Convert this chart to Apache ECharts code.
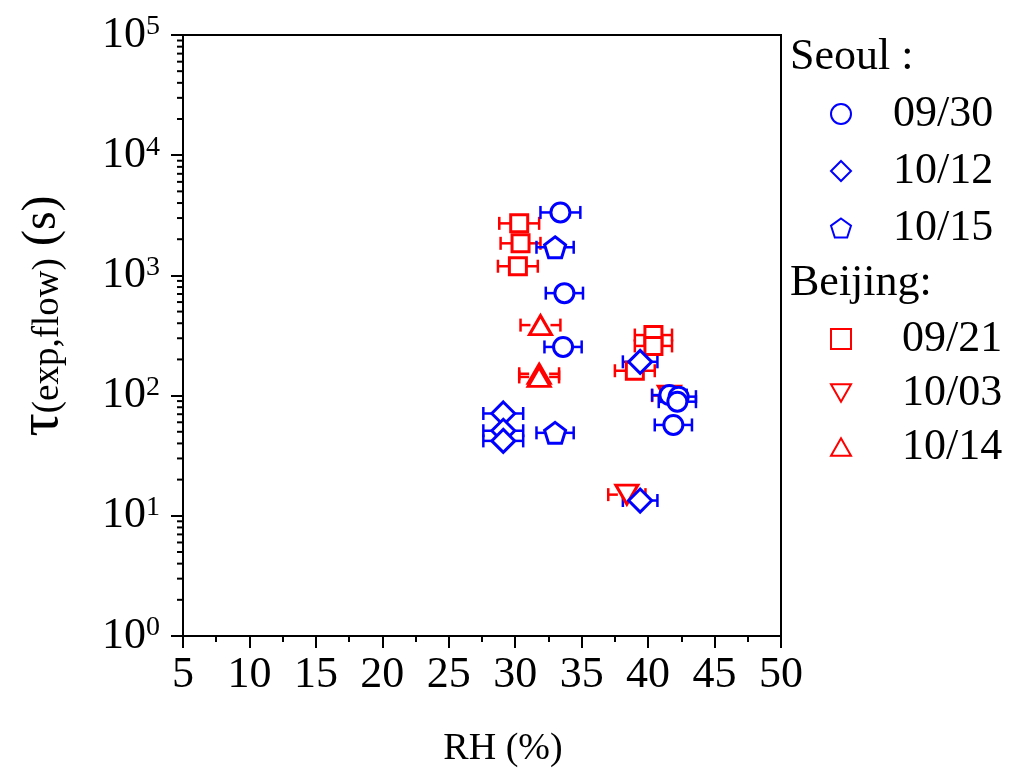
<!DOCTYPE html>
<html>
<head>
<meta charset="utf-8">
<script src="https://cdn.jsdelivr.net/npm/echarts@6/dist/echarts.min.js"></script>
<style>
html,body{margin:0;padding:0;background:#fff;}
#chart{width:1011px;height:773px;}
</style>
</head>
<body>
<div id="chart"></div>
<script>
// ---- Data (RH %, tau seconds) ----
const seoul0930 = [[33.4, 3340], [33.7, 712], [33.6, 254], [41.6, 101], [42.3, 98], [42.2, 89], [41.9, 57]];
const seoul0930Err = [1.5, 1.4, 1.4, 1.3, 1.3, 1.4, 1.4];
const seoul1012 = [[29.1, 71], [29.1, 51], [29.1, 42], [39.4, 191], [39.4, 13.4]];
const seoul1012Err = [1.5, 1.5, 1.5, 1.3, 1.3];
const seoul1015 = [[33.0, 1714], [33.0, 49]];
const seoul1015Err = [1.4, 1.4];
const beijing0921 = [[30.3, 2710], [30.4, 1849], [30.2, 1192], [40.4, 319], [40.4, 259], [39.0, 161]];
const beijing0921Err = [1.5, 1.5, 1.5, 1.4, 1.4, 1.5];
const beijing1003 = [[38.4, 15], [41.6, 100]];
const beijing1003Err = [1.4, 1.3];
const beijing1014 = [[31.9, 386], [31.8, 152], [31.8, 143]];
const beijing1014Err = [1.5, 1.5, 1.5];

const xTicks = [5, 10, 15, 20, 25, 30, 35, 40, 45, 50];
const yDecades = [1, 10, 100, 1000, 10000, 100000];
const yMinorMantissas = [2, 3, 4, 5, 6, 7, 8, 9];

const BLUE = '#0000ff', RED = '#ff0000';
const FONT = '"Liberation Serif", "Times New Roman", serif';
const PENTAGON = 'path://M0,-1 L0.951,-0.309 L0.588,0.809 L-0.588,0.809 L-0.951,-0.309 Z';
const TRI_DOWN = 'path://M0,0 L2,0 L1,1.732 Z';
const TRI_UP = 'path://M1,0 L2,1.732 L0,1.732 Z';

function withErr(pts, errs) { return pts.map((p, i) => [p[0], p[1], errs[i]]); }

function errSeries(name, pts, errs, color, gap) {
  return {
    type: 'custom', name: name + '_err', silent: true, clip: false, z: 2,
    encode: { x: 0, y: 1 },
    data: withErr(pts, errs),
    renderItem: function (params, api) {
      const x = api.value(0), y = api.value(1), e = api.value(2);
      const c = api.coord([x, y]);
      const a = api.coord([x - e, y]);
      const b = api.coord([x + e, y]);
      const h = 6.5, st = { stroke: color, lineWidth: 2.5 };
      return {
        type: 'group', children: [
          { type: 'line', shape: { x1: a[0], y1: c[1], x2: c[0] - gap, y2: c[1] }, style: st },
          { type: 'line', shape: { x1: c[0] + gap, y1: c[1], x2: b[0], y2: c[1] }, style: st },
          { type: 'line', shape: { x1: a[0], y1: c[1] - h, x2: a[0], y2: c[1] + h }, style: st },
          { type: 'line', shape: { x1: b[0], y1: c[1] - h, x2: b[0], y2: c[1] + h }, style: st }
        ]
      };
    }
  };
}

function markerSeries(name, pts, color, symbol, size) {
  return {
    type: 'scatter', name: name, data: pts, symbol: symbol, symbolSize: size, z: 3,
    itemStyle: { color: '#ffffff', borderColor: color, borderWidth: 3, opacity: 1 }
  };
}

const minorData = [];
yDecades.slice(0, -1).forEach(d => yMinorMantissas.forEach(m => minorData.push([xTicks[0], m * d])));

const chart = echarts.init(document.getElementById('chart'), null, { renderer: 'canvas' });

const option = {
  animation: false,
  backgroundColor: '#fff',
  grid: { left: 183, right: 230, top: 35, bottom: 135, show: true, borderColor: '#000', borderWidth: 2 },
  xAxis: {
    type: 'value', min: 5, max: 50, interval: 5,
    axisLine: { show: true, lineStyle: { color: '#000', width: 2 } },
    axisTick: { show: true, inside: false, length: 12, lineStyle: { color: '#000', width: 2 } },
    minorTick: { show: true, splitNumber: 2, length: 6, lineStyle: { color: '#000', width: 2 } },
    splitLine: { show: false },
    axisLabel: { color: '#000', fontFamily: FONT, fontSize: 44, margin: 17 },
    name: 'RH (%)', nameLocation: 'middle', nameGap: 94,
    nameTextStyle: { color: '#000', fontFamily: FONT, fontSize: 38, padding: [0, 0, 0, 42] }
  },
  yAxis: {
    type: 'log', logBase: 10, min: 1, max: 100000,
    axisLine: { show: true, lineStyle: { color: '#000', width: 2 } },
    axisTick: { show: true, inside: false, length: 12, lineStyle: { color: '#000', width: 2 } },
    splitLine: { show: false },
    axisLabel: {
      margin: 23,
      formatter: function (v) {
        const e = Math.round(Math.log10(v));
        return '{b|10}{s|' + e + '}';
      },
      rich: {
        b: { fontFamily: FONT, fontSize: 44, color: '#000', lineHeight: 44 },
        s: { fontFamily: FONT, fontSize: 28, color: '#000', verticalAlign: 'top', lineHeight: 28 }
      }
    }
  },
  legend: [
    {
      orient: 'vertical', left: 825, top: 87, itemGap: 13, itemWidth: 20, itemHeight: 20,
      data: ['09/30', '10/12', '10/15'], selectedMode: false,
      textStyle: { fontFamily: FONT, fontSize: 44, color: '#000', lineHeight: 44, padding: [0, 0, 0, 37] }
    },
    {
      orient: 'vertical', left: 825, top: 312, itemGap: 10, itemWidth: 20, itemHeight: 20,
      data: ['09/21', '10/03', '10/14'], selectedMode: false,
      textStyle: { fontFamily: FONT, fontSize: 44, color: '#000', lineHeight: 44, padding: [0, 0, 0, 46] }
    }
  ],
  graphic: [
    { type: 'text', left: 790, top: 35, style: { text: 'Seoul :', font: '44px ' + FONT, fill: '#000' } },
    { type: 'text', left: 790, top: 261, style: { text: 'Beijing:', font: '44px ' + FONT, fill: '#000' } },
    {
      type: 'text', x: 42, y: 316, rotation: Math.PI / 2,
      style: {
        text: '{t|τ}{s|(exp,flow)}{u| (s)}',
        align: 'center', verticalAlign: 'middle',
        rich: {
          t: { fontFamily: FONT, fontSize: 58, fill: '#000', lineHeight: 50 },
          u: { fontFamily: FONT, fontSize: 48, fill: '#000', lineHeight: 50 },
          s: { fontFamily: FONT, fontSize: 37, fill: '#000', verticalAlign: 'bottom', lineHeight: 36 }
        }
      }
    }
  ],
  series: [
    {
      type: 'custom', name: 'minorY', silent: true, clip: false, z: 5,
      encode: { x: 0, y: 1 }, data: minorData,
      renderItem: function (params, api) {
        const p = api.coord([api.value(0), api.value(1)]);
        return { type: 'line', shape: { x1: p[0] - 6, y1: p[1], x2: p[0], y2: p[1] }, style: { stroke: '#000', lineWidth: 2 } };
      }
    },
    errSeries('09/21', beijing0921, beijing0921Err, RED, 9),
    errSeries('10/03', beijing1003, beijing1003Err, RED, 9),
    errSeries('10/14', beijing1014, beijing1014Err, RED, 10),
    markerSeries('09/21', beijing0921, RED, 'rect', 17),
    markerSeries('10/03', beijing1003, RED, TRI_DOWN, [22, 19]),
    markerSeries('10/14', beijing1014, RED, TRI_UP, [22, 19]),
    errSeries('09/30', seoul0930, seoul0930Err, BLUE, 10),
    errSeries('10/12', seoul1012, seoul1012Err, BLUE, 11),
    errSeries('10/15', seoul1015, seoul1015Err, BLUE, 10),
    markerSeries('09/30', seoul0930, BLUE, 'circle', 19),
    markerSeries('10/12', seoul1012, BLUE, 'diamond', 23),
    markerSeries('10/15', seoul1015, BLUE, PENTAGON, 21)
  ]
};
chart.setOption(option);
</script>
</body>
</html>
